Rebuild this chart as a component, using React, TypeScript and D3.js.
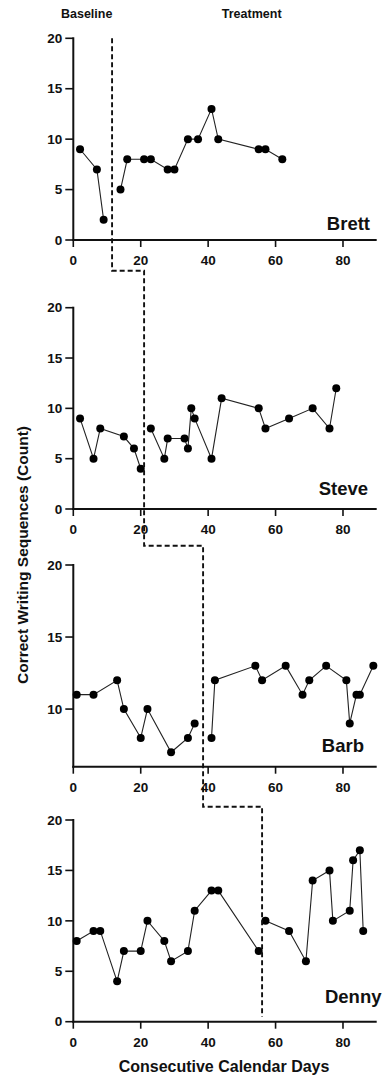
import React from "react";
import * as d3 from "d3";

// ---- Data ----
const participants = ["Brett", "Steve", "Barb", "Denny"];

const brettDays = [2, 7, 9, 14, 16, 21, 23, 28, 30, 34, 37, 41, 43, 55, 57, 62];
const brettCWS = [9, 7, 2, 5, 8, 8, 8, 7, 7, 10, 10, 13, 10, 9, 9, 8];

const steveDays = [2, 6, 8, 15, 18, 20, 23, 27, 28, 33, 34, 35, 36, 41, 44, 55, 57, 64, 71, 76, 78];
const steveCWS = [9, 5, 8, 7.2, 6, 4, 8, 5, 7, 7, 6, 10, 9, 5, 11, 10, 8, 9, 10, 8, 12];

const barbDays = [1, 6, 13, 15, 20, 22, 29, 34, 36, 41, 42, 54, 56, 63, 68, 70, 75, 81, 82, 84, 85, 89];
const barbCWS = [11, 11, 12, 10, 8, 10, 7, 8, 9, 8, 12, 13, 12, 13, 11, 12, 13, 12, 9, 11, 11, 13];

const dennyDays = [1, 6, 8, 13, 15, 20, 22, 27, 29, 34, 36, 41, 43, 55, 57, 64, 69, 71, 76, 77, 82, 83, 85, 86];
const dennyCWS = [8, 9, 9, 4, 7, 7, 10, 8, 6, 7, 11, 13, 13, 7, 10, 9, 6, 14, 15, 10, 11, 16, 17, 9];

const phaseChange = [11.5, 21, 38.5, 56];
const yDomains: [number, number][] = [[0, 20], [0, 20], [6, 20], [0, 20]];
const yTickValues = [[0, 5, 10, 15, 20], [0, 5, 10, 15, 20], [10, 15, 20], [0, 5, 10, 15, 20]];
const xTickValues = [0, 20, 40, 60, 80];
const phaseLabels = ["Baseline", "Treatment"];
const xTitle = "Consecutive Calendar Days";
const yTitle = "Correct Writing Sequences (Count)";

const allDays = [brettDays, steveDays, barbDays, dennyDays];
const allCWS = [brettCWS, steveCWS, barbCWS, dennyCWS];

// ---- Layout ----
const W = 383;
const H = 1078;
const axisLeft = 73.3;
const axisRight = 376.7;
const panelTops = [38.3, 307.7, 565, 820];
const panelBottoms = [240, 509, 766.7, 1021.7];
const connectorYs = [270.7, 545.7, 806.7];
const nameX = [370, 368, 364, 381.5];
const nameY = [230, 495, 751.7, 1003];
const FONT = "'Liberation Sans', Arial, Helvetica, sans-serif";

const x = d3.scaleLinear().domain([0, 90]).range([axisLeft, axisRight]);

export default function App() {
  const ys = yDomains.map((dom, i) =>
    d3.scaleLinear().domain(dom).range([panelBottoms[i], panelTops[i]])
  );
  const line = (yS: d3.ScaleLinear<number, number>) =>
    d3
      .line<[number, number]>()
      .x((d) => x(d[0]))
      .y((d) => yS(d[1]));

  // phase-change staircase
  let p = `M${x(phaseChange[0])},${panelTops[0]}`;
  for (let i = 0; i < phaseChange.length; i++) {
    const endY = i < connectorYs.length ? connectorYs[i] : panelBottoms[i] - 5;
    p += ` L${x(phaseChange[i])},${endY}`;
    if (i < connectorYs.length) p += ` L${x(phaseChange[i + 1])},${endY}`;
  }

  return (
    <svg
      width={W}
      height={H}
      style={{ position: "absolute", left: 0, top: 0, background: "#fff" }}
      fontFamily={FONT}
      fontWeight="bold"
    >
      <text x={86.7} y={17.5} fontSize={12.5} textAnchor="middle" fill="#111">
        {phaseLabels[0]}
      </text>
      <text x={251.7} y={17.5} fontSize={12.5} textAnchor="middle" fill="#111">
        {phaseLabels[1]}
      </text>

      {participants.map((name, i) => {
        const yS = ys[i];
        const pts: [number, number][] = allDays[i].map((d, k) => [d, allCWS[i][k]]);
        const base = pts.filter((d) => d[0] < phaseChange[i]);
        const treat = pts.filter((d) => d[0] >= phaseChange[i]);
        const lg = line(yS);
        return (
          <g key={name}>
            <line x1={axisLeft} x2={axisLeft} y1={panelTops[i] - 1} y2={panelBottoms[i] + 1} stroke="#111" strokeWidth={2} />
            <line x1={axisLeft - 1} x2={axisRight} y1={panelBottoms[i]} y2={panelBottoms[i]} stroke="#111" strokeWidth={2} />
            {yTickValues[i].map((t) => (
              <g key={"y" + t}>
                <line x1={axisLeft - 8} x2={axisLeft} y1={yS(t)} y2={yS(t)} stroke="#111" strokeWidth={1.6} />
                <text x={axisLeft - 11} y={yS(t) + 4.7} fontSize={13.5} textAnchor="end" fill="#111">
                  {t}
                </text>
              </g>
            ))}
            {xTickValues.map((t) => (
              <g key={"x" + t}>
                <line x1={x(t)} x2={x(t)} y1={panelBottoms[i]} y2={panelBottoms[i] + 7} stroke="#111" strokeWidth={1.6} />
                <text x={x(t)} y={panelBottoms[i] + 25} fontSize={13.5} textAnchor="middle" fill="#111">
                  {t}
                </text>
              </g>
            ))}
            <path d={lg(base) || ""} fill="none" stroke="#222" strokeWidth={1.1} />
            <path d={lg(treat) || ""} fill="none" stroke="#222" strokeWidth={1.1} />
            {pts.map((d, k) => (
              <circle key={k} cx={x(d[0])} cy={yS(d[1])} r={4} fill="#000" />
            ))}
            <text x={nameX[i]} y={nameY[i]} fontSize={18.5} textAnchor="end" fill="#111">
              {name}
            </text>
          </g>
        );
      })}

      <path d={p} fill="none" stroke="#111" strokeWidth={1.9} strokeDasharray="5,3" />

      <text x={224} y={1071.7} fontSize={16} textAnchor="middle" fill="#111">
        {xTitle}
      </text>
      <text
        transform={`translate(27.5,555) rotate(-90)`}
        fontSize={15.5}
        textAnchor="middle"
        fill="#111"
      >
        {yTitle}
      </text>
    </svg>
  );
}
